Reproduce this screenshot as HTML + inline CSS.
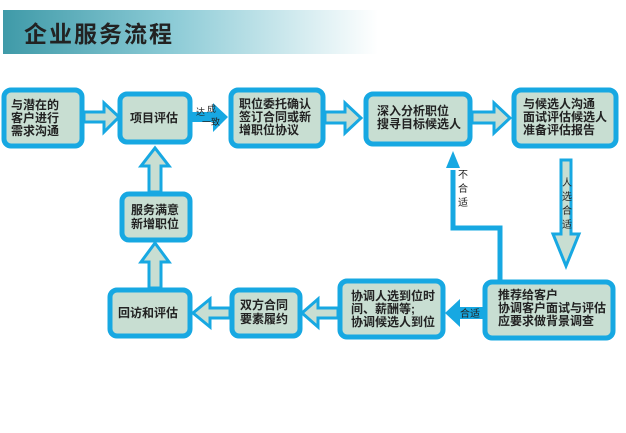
<!DOCTYPE html>
<html><head><meta charset="utf-8"><style>
body{margin:0;width:626px;height:428px;background:#fff;overflow:hidden}
svg text{font-family:"Liberation Sans","Noto Sans CJK SC",sans-serif;fill:#222}
</style></head><body>
<svg width="626" height="428" viewBox="0 0 626 428" xmlns="http://www.w3.org/2000/svg">
<defs>
<linearGradient id="hg" x1="0" x2="1" y1="0" y2="0">
<stop offset="0" stop-color="#3f9aa8"/><stop offset="0.45" stop-color="#8ccbd6"/><stop offset="1" stop-color="#ffffff"/>
</linearGradient>
</defs>
<rect x="3" y="10" width="375" height="44" fill="url(#hg)"/>
<text x="24" y="42" font-size="23" fill="#1e2a2c" font-weight="bold" letter-spacing="2">企业服务流程</text>

<g fill="#c8ded2" stroke="#17a8e2" stroke-width="5">
<rect x="4" y="90" width="78" height="56" rx="7"/>
<rect x="120" y="94" width="70" height="48" rx="7"/>
<rect x="231" y="90" width="92" height="56" rx="7"/>
<rect x="366" y="94" width="104" height="50" rx="7"/>
<rect x="514" y="90" width="102" height="56" rx="7"/>
<rect x="122" y="194" width="68" height="46" rx="7"/>
<rect x="110" y="290" width="80" height="46" rx="7"/>
<rect x="232" y="290" width="68" height="46" rx="7"/>
<rect x="340" y="281" width="103" height="56" rx="7"/>
<rect x="485" y="282" width="128" height="56" rx="7"/>
</g>

<g fill="#c8ded2" stroke="#17a8e2" stroke-width="3">
<path d="M84 112 H104 V103 L119 117 L104 132 V122 H84 Z"/>
<path d="M325 112 H345 V103 L361 118 L345 133 V123 H325 Z"/>
<path d="M472 112 H494 V103 L510 118 L494 133 V123 H472 Z"/>
<path d="M230 308 H210 V299 L193 313 L210 327 V318 H230 Z"/>
<path d="M338 308 H318 V299 L302 313 L318 327 V318 H338 Z"/>
<path d="M149 192 V166 H141 L155 148 L169 166 H161 V192 Z"/>
<path d="M149 288 V262 H141 L155 243 L169 262 H161 V288 Z"/>
<path d="M561 160 V234 H553 L566 266 L579 234 H571 V160 Z"/>
</g>
<path d="M192 112 H213 V103 L228 117 L213 132 V122 H192 Z" fill="#17a8e2"/>
<text x="196" y="115" font-size="9">达</text><text x="207" y="112" font-size="9">成</text>
<text x="202" y="125" font-size="9">一致</text>
<path d="M483 307 H460 V299 L445 313 L460 327 V319 H483 Z" fill="#17a8e2"/>
<text x="460" y="317" font-size="10">合适</text>
<path d="M453 170 V228 H500 V280" fill="none" stroke="#17a8e2" stroke-width="5"/>
<path d="M446 168 L453 151 L460 168 Z" fill="#17a8e2"/>
<text font-size="10"><tspan x="458" y="178">不</tspan><tspan x="458" y="192">合</tspan><tspan x="458" y="206">适</tspan></text>
<text font-size="10"><tspan x="562" y="186">人</tspan><tspan x="562" y="200">选</tspan><tspan x="562" y="214">合</tspan><tspan x="562" y="228">适</tspan></text>

<g font-size="12" font-weight="bold" fill="#333">
<text x="11" y="109">与潜在的</text><text x="11" y="122">客户进行</text><text x="11" y="135">需求沟通</text>
<text x="130" y="122">项目评估</text>
<text x="239" y="108">职位委托确认</text><text x="239" y="121">签订合同或新</text><text x="239" y="134">增职位协议</text>
<text x="377" y="115">深入分析职位</text><text x="377" y="128">搜寻目标候选人</text>
<text x="523" y="108">与候选人沟通</text><text x="523" y="121">面试评估候选人</text><text x="523" y="134">准备评估报告</text>
<text x="131" y="214">服务满意</text><text x="131" y="228">新增职位</text>
<text x="118" y="317">回访和评估</text>
<text x="240" y="309">双方合同</text><text x="240" y="323">要素履约</text>
<text x="351" y="300">协调人选到位时</text><text x="351" y="313">间、薪酬等;</text><text x="351" y="326">协调候选人到位</text>
<text x="498" y="299">推荐给客户</text><text x="498" y="312">协调客户面试与评估</text><text x="498" y="325">应要求做背景调查</text>
</g>
</svg>
</body></html>
